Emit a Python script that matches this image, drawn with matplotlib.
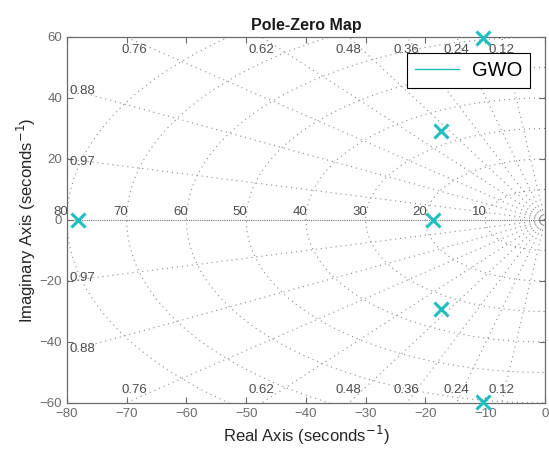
import numpy as np
from matplotlib import pyplot as plt
from matplotlib.lines import Line2D

plt.rcParams['font.family'] = ['Liberation Sans', 'DejaVu Sans']

# pole locations
pole_re = [-78.2, -18.8, -17.4, -17.4, -10.3, -10.3]
pole_im = [0.0, 0.0, 29.2, -29.2, 59.8, -59.8]

# grid values used by the damping / natural frequency overlay
zetas = [0.12, 0.24, 0.36, 0.48, 0.62, 0.76, 0.88, 0.97]
zeta_labels = ['0.12', '0.24', '0.36', '0.48', '0.62', '0.76', '0.88', '0.97']
wns = [10, 20, 30, 40, 50, 60, 70, 80]
wn_labels = ['10', '20', '30', '40', '50', '60', '70', '80']

xticks = [-80, -70, -60, -50, -40, -30, -20, -10, 0]
yticks = [-60, -40, -20, 0, 20, 40, 60]

xlim = (-80, 0)
ylim = (-60, 60)

grid_col = '#8a8a8a'
lab_col = '#4d4d4d'
pole_col = '#1fbfbf'
grid_ls = (0, (1, 3.5))


def draw_sgrid(ax):
    rmax = 120
    # damping lines
    for z in zetas:
        wd = np.sqrt(1 - z ** 2)
        for sgn in (1, -1):
            ax.plot([0, -z * rmax], [0, sgn * wd * rmax], ls=grid_ls, lw=0.8,
                    color=grid_col, zorder=1)
    # real axis (zeta = 1)
    ax.plot([0, -rmax], [0, 0], ls=(0, (1, 1)), lw=0.8, color='#707070', zorder=1)
    # natural frequency arcs
    th = np.linspace(np.pi / 2, 3 * np.pi / 2, 300)
    for wn in wns:
        ax.plot(wn * np.cos(th), wn * np.sin(th), ls=grid_ls, lw=0.8,
                color=grid_col, zorder=1)


def label_sgrid(ax):
    for z, lab in zip(zetas, zeta_labels):
        slope = np.sqrt(1 - z ** 2) / z
        x_top = -60 / slope
        if x_top > -75:
            if lab == '0.76':
                x_top += 1.5
            for sgn in (1, -1):
                ax.text(x_top, sgn * 55.8, lab, ha='center', va='center',
                        fontsize=9.5, color=lab_col, zorder=2)
        else:
            y_left = 80 * slope
            for sgn in (1, -1):
                ax.text(-79.6, sgn * (y_left - 1), lab, ha='left', va='center',
                        fontsize=9.5, color=lab_col, zorder=2)
    for wn, lab in zip(wns, wn_labels):
        ax.text(-wn + 0.2, 0.8, lab, ha='right', va='bottom',
                fontsize=9.5, color=lab_col, zorder=2, clip_on=False)


fig = plt.figure(figsize=(5.49, 4.55), dpi=100)
ax = fig.add_axes([0.122, 0.1143, 0.8707, 0.8044])

draw_sgrid(ax)
label_sgrid(ax)

ax.plot(pole_re, pole_im, ls='none', marker='x', ms=10, mew=2.2,
        color=pole_col, zorder=5, clip_on=False)

ax.set_xlim(xlim)
ax.set_ylim(ylim)
ax.set_xticks(xticks)
ax.set_yticks(yticks)
ax.tick_params(direction='in', top=True, right=True, length=4,
               labelsize=9.5, colors='#6b6b6b', labelcolor='#6b6b6b')
for sp in ax.spines.values():
    sp.set_color('#6b6b6b')
    sp.set_linewidth(0.9)

ax.set_title('Pole-Zero Map', fontsize=11.5, fontweight='bold', color='#1a1a1a', pad=5)
ax.set_xlabel('Real Axis (seconds$^{-1}$)', fontsize=12, color='#262626', labelpad=3)
ax.set_ylabel('Imaginary Axis (seconds$^{-1}$)', fontsize=12, color='#262626', labelpad=1)

handle = Line2D([], [], color=pole_col, lw=1)
leg = ax.legend([handle], ['GWO'], loc='upper right', fontsize=14.5,
                fancybox=False, edgecolor='black', framealpha=1,
                handlelength=2.2, handletextpad=0.6, borderpad=0.4,
                borderaxespad=0, bbox_to_anchor=(0.9686, 0.956))
leg.get_frame().set_linewidth(0.8)

fig.savefig('out.png', dpi=100)
plt.close(fig)
